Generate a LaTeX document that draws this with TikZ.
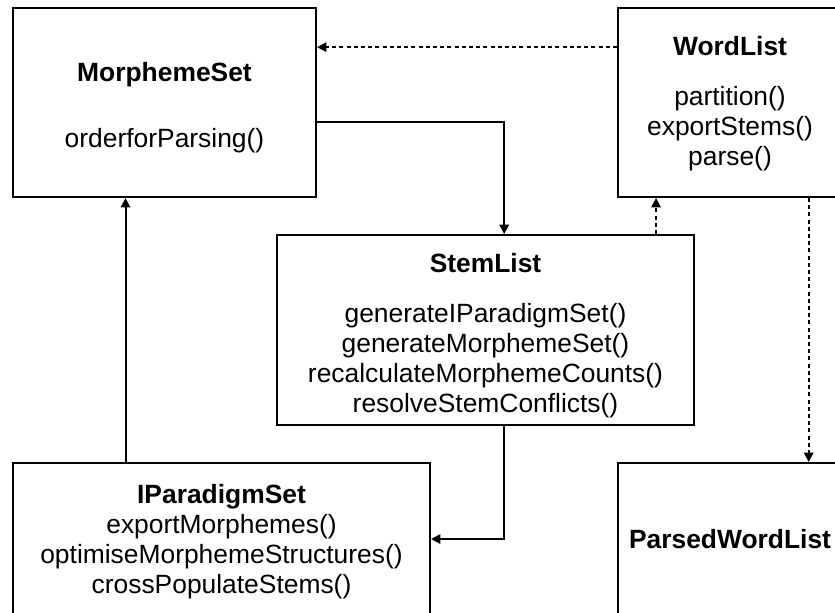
\documentclass[tikz,border=0pt]{standalone}
\usepackage{fontspec}
\setmainfont{Liberation Sans}
\usetikzlibrary{arrows.meta}

\begin{document}
\begin{tikzpicture}[x=0.75pt,y=-0.75pt,>={Triangle[length=7pt,width=7pt]},
  font=\fontsize{19.8}{22.5}\selectfont,
  classbox/.style 2 args={draw,line width=1.5pt,align=center,inner sep=0pt,
    minimum width=#1*0.75pt,minimum height=#2*0.75pt},
  link/.style={->,line width=1.5pt},
  dep/.style={->,line width=1.5pt,dash pattern=on 3pt off 2.4pt}]
\useasboundingbox (0,0) rectangle (835,612);
\clip (0,0) rectangle (835,612);
% classes
\node[classbox={303}{189}] (morph) at (164.5,102.5)
  {\rule{0pt}{22pt}\textbf{MorphemeSet}\\[27pt]orderforParsing()};
\node[classbox={224}{189}] (words) at (730,102.5)
  {\rule{0pt}{16pt}\textbf{WordList}\\[15pt]partition()\\exportStems()\\parse()};
\node[classbox={417}{190}] (stems) at (485.5,330)
  {\rule{0pt}{23.5pt}\textbf{StemList}\\[15pt]generateIParadigmSet()\\generateMorphemeSet()\\recalculateMorphemeCounts()\\resolveStemConflicts()};
\node[classbox={417}{152}] (para) at (221.5,539)
  {\rule{0pt}{18pt}\textbf{IParadigmSet}\\exportMorphemes()\\optimiseMorphemeStructures()\\crossPopulateStems()};
\node[classbox={224}{152}] (parsed) at (730,539)
  {\textbf{ParsedWordList}};
% relations
\draw[dep] ([yshift=41.5pt]words.west) -- ([yshift=41.5pt]words.west -| morph.east);
\draw[link] ([yshift=-14.6pt]morph.east) -| ([xshift=14pt]stems.north);
\draw[dep] ([xshift=127.9pt]stems.north) -- ([xshift=127.9pt]stems.north |- words.south);
\draw[dep] ([xshift=59pt]words.south) -- ([xshift=59pt]parsed.north);
\draw[link] ([xshift=-72pt]para.north) -- ([xshift=-72pt]para.north |- morph.south);
\draw[link] ([xshift=14pt]stems.south) |- (para.east);
\end{tikzpicture}
\end{document}
